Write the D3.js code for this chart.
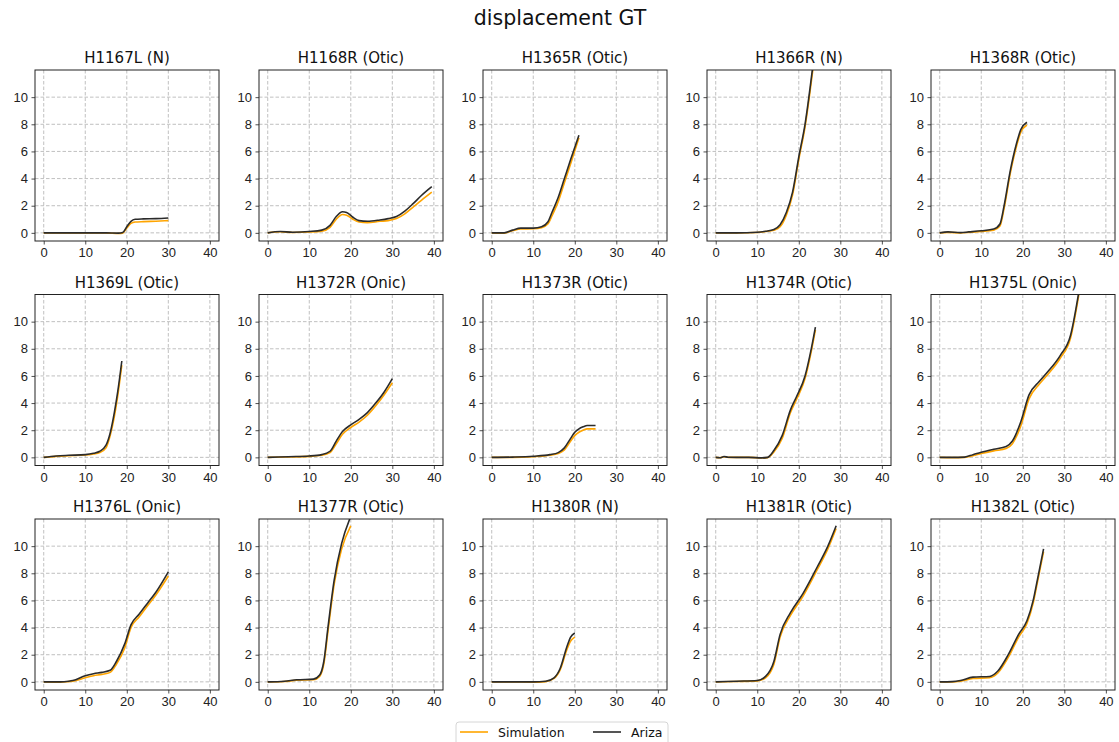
<!DOCTYPE html>
<html>
<head>
<meta charset="utf-8">
<script src="https://cdn.jsdelivr.net/npm/d3@7"></script>
<style>
  body { margin: 0; background: #fff; }
  svg { display: block; font-family: "DejaVu Sans", sans-serif; }
  .tick text { fill: #222; font-size: 13px; }
</style>
</head>
<body>
<svg id="chart" width="1119" height="742"></svg>
<script>
// Panel titles, row by row
const titles = [
    "H1167L (N)", "H1168R (Otic)", "H1365R (Otic)", "H1366R (N)", "H1368R (Otic)",
    "H1369L (Otic)", "H1372R (Onic)", "H1373R (Otic)", "H1374R (Otic)", "H1375L (Onic)",
    "H1376L (Onic)", "H1377R (Otic)", "H1380R (N)", "H1381R (Otic)", "H1382L (Otic)"
];

// Time samples for each panel
const times = [
    [0, 5, 10, 15, 18, 19, 20, 21, 22, 24, 27, 30],
    [0, 3, 6, 10, 13, 15, 16.5, 18, 19, 20.5, 22, 24, 27, 29, 31, 33, 35, 37, 39.5],
    [0, 3, 5, 7, 10, 12, 13.5, 14.5, 16, 17.5, 19, 21],
    [0, 5, 10, 12, 14, 15.5, 17, 18.5, 20, 21.5, 23.5],
    [0, 2, 5, 7, 10, 13, 14.5, 15.5, 17, 18.5, 19.5, 21],
    [0, 3, 6, 10, 12, 13.5, 15, 16, 17, 17.8, 18.8],
    [0, 5, 10, 13, 15, 16.5, 18, 20, 22, 24, 26, 28, 30],
    [0, 5, 10, 14, 16, 17.5, 19, 20, 21, 22, 23, 24, 25],
    [0, 1, 2, 3, 5, 8, 11, 12.5, 14, 16, 18, 19.5, 21.5, 23, 24],
    [0, 3, 6, 8, 10, 13, 16, 17.5, 19.5, 21.5, 24, 26, 29, 31.5, 33.5],
    [0, 4, 6, 7, 10, 12, 14, 16, 17.5, 19.5, 21, 23, 25, 27, 30],
    [0, 4, 7, 11, 12.5, 13.5, 14.5, 16, 17.8, 20],
    [0, 5, 10, 13, 15, 16.5, 18, 19, 20],
    [0, 5, 10, 12, 14, 15.5, 18, 21, 24.5, 27, 29],
    [0, 3, 5, 8, 12, 14, 16.5, 19, 21, 22.5, 23.5, 25]
];

// Ariza displacement
const ariza = [
    [0, 0, 0, 0, -0.02, 0.02, 0.45, 0.85, 1.0, 1.03, 1.05, 1.1],
    [0, 0.1, 0.05, 0.1, 0.2, 0.55, 1.2, 1.55, 1.5, 1.15, 0.9, 0.85, 0.95, 1.05, 1.2, 1.6, 2.15, 2.75, 3.4],
    [0, 0, 0.2, 0.35, 0.35, 0.45, 0.8, 1.5, 2.6, 4.0, 5.4, 7.2],
    [0, 0, 0.05, 0.12, 0.25, 0.6, 1.5, 3.0, 5.6, 8.0, 12.6],
    [0, 0.07, 0.02, 0.07, 0.15, 0.28, 0.65, 2.0, 4.6, 6.6, 7.6, 8.15],
    [0, 0.1, 0.15, 0.2, 0.3, 0.45, 0.9, 1.8, 3.3, 4.8, 7.1],
    [0, 0.05, 0.1, 0.2, 0.45, 1.2, 1.9, 2.4, 2.8, 3.3, 4.0, 4.8, 5.8],
    [0, 0.02, 0.08, 0.2, 0.35, 0.7, 1.4, 1.85, 2.1, 2.25, 2.35, 2.35, 2.35],
    [0, -0.03, 0.06, 0.01, 0, 0, -0.04, 0, 0.5, 1.6, 3.5, 4.5, 6.0, 8.0, 9.6],
    [0, 0, 0.02, 0.2, 0.38, 0.6, 0.8, 1.2, 2.6, 4.6, 5.6, 6.3, 7.5, 9.0, 12.2],
    [0, 0, 0.05, 0.1, 0.45, 0.6, 0.7, 0.85, 1.5, 2.8, 4.2, 5.0, 5.8, 6.6, 8.1],
    [0, 0.05, 0.15, 0.2, 0.5, 1.5, 4.0, 7.5, 10.2, 12.2],
    [0, 0, 0, 0.05, 0.3, 1.0, 2.5, 3.3, 3.6],
    [0, 0.05, 0.1, 0.4, 1.5, 3.5, 5.1, 6.5, 8.5, 10.0, 11.5],
    [0, 0.02, 0.1, 0.35, 0.4, 0.8, 2.0, 3.5, 4.5, 6.0, 7.5, 9.8]
];

// Simulation displacement
const simulation = [
    [0, 0, 0, 0, -0.05, -0.02, 0.35, 0.7, 0.8, 0.83, 0.86, 0.9],
    [0, 0.08, 0.03, 0.06, 0.12, 0.4, 1.0, 1.35, 1.3, 1.0, 0.8, 0.75, 0.85, 0.9, 1.05, 1.4, 1.9, 2.4, 3.0],
    [0, -0.02, 0.15, 0.28, 0.3, 0.38, 0.65, 1.25, 2.3, 3.7, 5.1, 7.0],
    [0, 0, 0.03, 0.1, 0.2, 0.45, 1.3, 2.8, 5.4, 7.8, 12.3],
    [0, 0.03, 0, 0.03, 0.1, 0.2, 0.5, 1.8, 4.4, 6.4, 7.4, 7.95],
    [0, 0.07, 0.12, 0.17, 0.25, 0.35, 0.7, 1.6, 3.0, 4.5, 6.8],
    [0, 0.03, 0.07, 0.15, 0.35, 1.0, 1.7, 2.2, 2.6, 3.1, 3.8, 4.6, 5.5],
    [0, 0, 0.05, 0.15, 0.28, 0.55, 1.2, 1.6, 1.85, 2.0, 2.1, 2.1, 2.1],
    [0, -0.03, 0.04, 0, 0, 0, -0.04, -0.02, 0.4, 1.4, 3.3, 4.3, 5.8, 7.8, 9.4],
    [0, -0.02, 0, 0.12, 0.28, 0.48, 0.65, 1.0, 2.3, 4.3, 5.4, 6.1, 7.3, 8.8, 12.0],
    [0, -0.02, 0.02, 0.05, 0.3, 0.45, 0.55, 0.7, 1.3, 2.5, 4.0, 4.8, 5.6, 6.4, 7.8],
    [0, 0.03, 0.12, 0.15, 0.4, 1.3, 3.7, 7.2, 9.8, 11.5],
    [0, 0, -0.02, 0.02, 0.25, 0.9, 2.3, 3.0, 3.3],
    [0, 0.03, 0.07, 0.3, 1.3, 3.3, 4.9, 6.3, 8.3, 9.8, 11.3],
    [0, 0, 0.05, 0.25, 0.3, 0.65, 1.8, 3.3, 4.3, 5.8, 7.3, 9.6]
];

const xTicks = [0, 10, 20, 30, 40];
const yTicks = [0, 2, 4, 6, 8, 10];
const seriesNames = ["Simulation", "Ariza"];
const seriesColors = ["#ffa500", "#2b2b2b"];

const svg = d3.select("#chart");

const cols = 5;
const panelW = 184, panelH = 171;
const left0 = 35, top0 = 70;
const stepX = 224, stepY = 224.5;

const x = d3.scaleLinear().domain([-2.1, 42.2]).range([0, panelW]);
const y = d3.scaleLinear().domain([-0.6, 12]).range([panelH, 0]);

const line = d3.line()
    .x(d => x(d[0]))
    .y(d => y(d[1]))
    .curve(d3.curveMonotoneX);

svg.append("text")
    .attr("x", 560)
    .attr("y", 25)
    .attr("text-anchor", "middle")
    .style("font-size", "20.5px")
    .style("fill", "#111")
    .text("displacement GT");

svg.append("defs")
    .append("clipPath")
    .attr("id", "panel-clip")
    .append("rect")
    .attr("width", panelW)
    .attr("height", panelH);

titles.forEach((title, i) => {
    const col = i % cols;
    const row = Math.floor(i / cols);
    const g = svg.append("g")
        .attr("transform", `translate(${left0 + col * stepX},${top0 + row * stepY})`);

    // grid
    g.append("g")
        .selectAll("line")
        .data(xTicks)
        .join("line")
        .attr("x1", d => x(d)).attr("x2", d => x(d))
        .attr("y1", 0).attr("y2", panelH)
        .attr("stroke", "#b0b0b0")
        .attr("stroke-width", 0.8)
        .attr("stroke-dasharray", "3.5,2");

    g.append("g")
        .selectAll("line")
        .data(yTicks)
        .join("line")
        .attr("x1", 0).attr("x2", panelW)
        .attr("y1", d => y(d)).attr("y2", d => y(d))
        .attr("stroke", "#b0b0b0")
        .attr("stroke-width", 0.8)
        .attr("stroke-dasharray", "3.5,2");

    // lines
    const lines = g.append("g").attr("clip-path", "url(#panel-clip)");
    const simPts = times[i].map((t, k) => [t, simulation[i][k]]);
    const arzPts = times[i].map((t, k) => [t, ariza[i][k]]);

    lines.append("path")
        .attr("d", line(simPts))
        .attr("fill", "none")
        .attr("stroke", seriesColors[0])
        .attr("stroke-width", 1.6);

    lines.append("path")
        .attr("d", line(arzPts))
        .attr("fill", "none")
        .attr("stroke", seriesColors[1])
        .attr("stroke-width", 1.6);

    // axes
    const xAxis = g.append("g")
        .attr("transform", `translate(0,${panelH})`)
        .call(d3.axisBottom(x).tickValues(xTicks).tickSize(3.5).tickPadding(3.5));
    const yAxis = g.append("g")
        .call(d3.axisLeft(y).tickValues(yTicks).tickSize(3.5).tickPadding(3.5));

    [xAxis, yAxis].forEach(a => {
        a.select(".domain").remove();
        a.selectAll(".tick line").attr("stroke", "#222").attr("stroke-width", 0.8);
        a.selectAll(".tick text").style("font-size", "13px");
    });

    g.append("rect")
        .attr("width", panelW)
        .attr("height", panelH)
        .attr("fill", "none")
        .attr("stroke", "#222")
        .attr("stroke-width", 1);

    g.append("text")
        .attr("x", panelW / 2)
        .attr("y", -7)
        .attr("text-anchor", "middle")
        .style("font-size", "15px")
        .style("fill", "#111")
        .text(title);
});

// legend
const legend = svg.append("g").attr("transform", "translate(456,722)");

legend.append("rect")
    .attr("width", 212)
    .attr("height", 28)
    .attr("rx", 3)
    .attr("fill", "#fff")
    .attr("stroke", "#cccccc")
    .attr("stroke-width", 0.8);

const legendX = [4, 137];
seriesNames.forEach((name, i) => {
    legend.append("line")
        .attr("x1", legendX[i]).attr("x2", legendX[i] + 28)
        .attr("y1", 10).attr("y2", 10)
        .attr("stroke", seriesColors[i])
        .attr("stroke-width", 1.6);
    legend.append("text")
        .attr("x", legendX[i] + 38)
        .attr("y", 14.5)
        .style("font-size", "12.5px")
        .style("fill", "#111")
        .text(name);
});
</script>
</body>
</html>
